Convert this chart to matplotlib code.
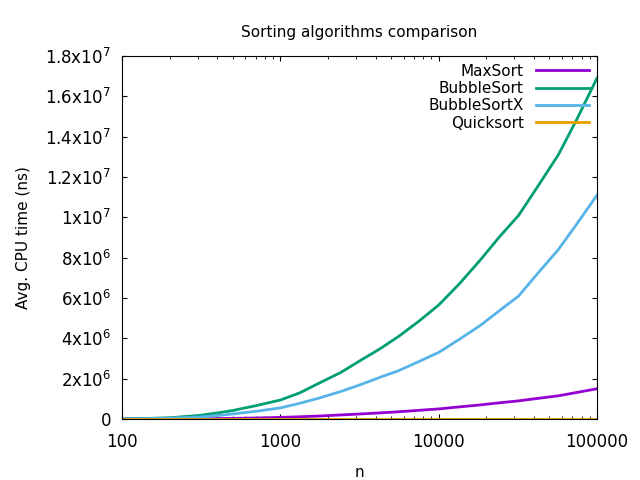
import matplotlib
matplotlib.use("Agg")
import matplotlib.pyplot as plt
from matplotlib.ticker import FixedLocator, FuncFormatter

n = [100, 130, 200, 310, 400, 500, 700, 1000, 1330, 1780, 2400, 3200, 4200, 5600, 7500, 10000, 13500, 18400, 24000, 32000, 42000, 57000, 75000, 100000]
bubble = [0.01e6, 0.02e6, 0.06e6, 0.18e6, 0.3e6, 0.42e6, 0.66e6, 0.94e6, 1.3e6, 1.8e6, 2.3e6, 2.9e6, 3.45e6, 4.1e6, 4.85e6, 5.65e6, 6.7e6, 7.9e6, 9.0e6, 10.1e6, 11.5e6, 13.1e6, 14.9e6, 16.9e6]
bubblex = [0.005e6, 0.01e6, 0.04e6, 0.1e6, 0.17e6, 0.25e6, 0.38e6, 0.55e6, 0.78e6, 1.05e6, 1.36e6, 1.7e6, 2.05e6, 2.4e6, 2.85e6, 3.3e6, 3.95e6, 4.65e6, 5.35e6, 6.1e6, 7.2e6, 8.4e6, 9.7e6, 11.1e6]
maxsort = [0, 0, 0.005e6, 0.01e6, 0.02e6, 0.03e6, 0.05e6, 0.08e6, 0.11e6, 0.15e6, 0.2e6, 0.25e6, 0.3e6, 0.36e6, 0.43e6, 0.5e6, 0.6e6, 0.7e6, 0.8e6, 0.9e6, 1.02e6, 1.15e6, 1.32e6, 1.5e6]
quick = [0] * 24
yticks = [0, 2e6, 4e6, 6e6, 8e6, 1e7, 1.2e7, 1.4e7, 1.6e7, 1.8e7]

fig = plt.figure(figsize=(6.4, 4.8), dpi=100)
ax = fig.add_axes([122/640, 1-419/480, (597-122)/640, (419-56)/480])
ax.plot(n, maxsort, color="#9400d3", lw=2, label="MaxSort")
ax.plot(n, bubble, color="#009e73", lw=2, label="BubbleSort")
ax.plot(n, bubblex, color="#56b4e9", lw=2, label="BubbleSortX")
ax.plot(n, quick, color="#e69f00", lw=2, label="Quicksort")
ax.set_xscale("log")
ax.set_xlim(100, 100000)
ax.set_ylim(0, 1.8e7)
ax.set_xticks([100, 1000, 10000, 100000])
ax.set_xticklabels(["100", "1000", "10000", "100000"])
ax.yaxis.set_major_locator(FixedLocator(yticks))

def fmt(v, p):
    if v == 0:
        return "0"
    e = 0
    m = v
    while m >= 10:
        m /= 10; e += 1
    ms = ("%g" % round(m, 2))
    return r"$\mathregular{%s x10^{%d}}$" % (ms, e)
ax.yaxis.set_major_formatter(FuncFormatter(fmt))
ax.tick_params(which="both", direction="in", top=True, right=True, labelsize=12)
ax.tick_params(axis="x", pad=10)
ax.tick_params(axis="y", pad=8)
ax.set_xlabel("n", fontsize=11, labelpad=10)
ax.set_ylabel("Avg. CPU time (ns)", fontsize=11, labelpad=10)
ax.set_title("Sorting algorithms comparison", fontsize=11, pad=14)
leg = ax.legend(loc="upper right", frameon=False, markerfirst=False, fontsize=11,
                handlelength=3.5, borderaxespad=0.1, labelspacing=0.15)
fig.savefig("out.png", dpi=100)
